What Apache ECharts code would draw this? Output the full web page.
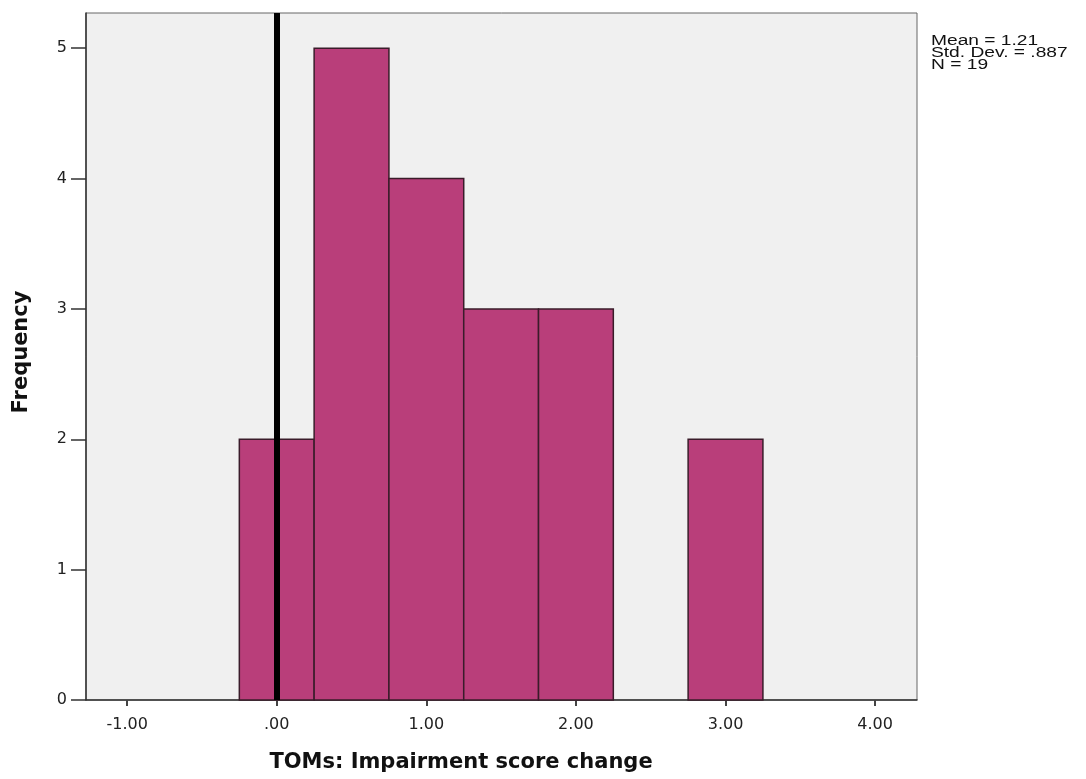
<!DOCTYPE html>
<html>
<head>
<meta charset="utf-8">
<script src="https://cdn.jsdelivr.net/npm/echarts@6/dist/echarts.min.js"></script>
<style>
  html, body { margin: 0; padding: 0; background: #fff; }
  #chart { width: 1086px; height: 779px; }
</style>
</head>
<body>
<div id="chart"></div>
<script>
// histogram bins (lower edge) and counts
const binStarts = [-0.25, 0.25, 0.75, 1.25, 1.75, 2.25, 2.75]
const binWidth = 0.5
const counts = [2, 5, 4, 3, 3, 0, 2]
const xTicks = [-1, 0, 1, 2, 3, 4]
const yTicks = [0, 1, 2, 3, 4, 5]
const statLines = ['Mean = 1.21', 'Std. Dev. = .887', 'N = 19']
const xTitle = 'TOMs: Impairment score change'
const yTitle = 'Frequency'
const refLine = 0

const myChart = echarts.init(document.getElementById('chart'))

const barData = binStarts.map((s, i) => [s, s + binWidth, counts[i]])

// SPSS style labels: -1.00, .00, 1.00
const fmtX = v => {
  const s = Number(v).toFixed(2)
  return s.replace(/^0\./, '.').replace(/^-0\./, '-.')
}

const option = {
  animation: false,
  textStyle: { fontFamily: 'DejaVu Sans, sans-serif' },
  grid: {
    left: 86, right: 169, top: 13, bottom: 79,
    show: true,
    backgroundColor: '#F0F0F0',
    borderColor: '#666',
    borderWidth: 1
  },
  xAxis: {
    type: 'value',
    min: -1.275,
    max: 4.28,
    axisLine: { onZero: false, lineStyle: { color: '#333', width: 1.5 } },
    axisTick: { show: true, customValues: xTicks, length: 6, lineStyle: { color: '#444', width: 2 } },
    axisLabel: { customValues: xTicks, formatter: fmtX, color: '#222', fontSize: 16, margin: 17 },
    splitLine: { show: false }
  },
  yAxis: {
    type: 'value',
    min: 0,
    max: 5.27,
    axisLine: { show: true, onZero: false, lineStyle: { color: '#333', width: 1.5 } },
    axisTick: { show: true, customValues: yTicks, length: 15, lineStyle: { color: '#333', width: 1.5 } },
    axisLabel: { customValues: yTicks, color: '#222', fontSize: 16, margin: 19 },
    splitLine: { show: false }
  },
  series: [
    {
      type: 'custom',
      data: barData,
      encode: { x: [0, 1], y: 2 },
      renderItem: (params, api) => {
        const h = api.value(2)
        if (!h) return
        const p0 = api.coord([api.value(0), h])
        const p1 = api.coord([api.value(1), 0])
        return {
          type: 'rect',
          shape: { x: p0[0], y: p0[1], width: p1[0] - p0[0], height: p1[1] - p0[1] },
          style: { fill: '#B93E7A', stroke: '#3A1C2A', lineWidth: 1.5 }
        }
      },
      markLine: {
        silent: true,
        symbol: 'none',
        label: { show: false },
        lineStyle: { color: '#000', width: 6, type: 'solid' },
        data: [{ xAxis: refLine }]
      },
      z: 2
    }
  ],
  graphic: [
    {
      type: 'text',
      x: 931,
      y: 35,
      scaleX: 1.37,
      style: {
        text: statLines.join('\n'),
        font: '14px Liberation Sans, Arial, sans-serif',
        lineHeight: 12,
        fill: '#111'
      }
    },
    {
      type: 'text',
      x: 461,
      y: 763,
      style: {
        text: xTitle,
        font: 'bold 21px DejaVu Sans, sans-serif',
        fill: '#111',
        align: 'center',
        verticalAlign: 'middle'
      }
    },
    {
      type: 'text',
      x: 22,
      y: 352,
      rotation: Math.PI / 2,
      style: {
        text: yTitle,
        font: 'bold 21px DejaVu Sans, sans-serif',
        fill: '#111',
        align: 'center',
        verticalAlign: 'middle'
      }
    }
  ]
}

myChart.setOption(option)
window.addEventListener('resize', () => { myChart.resize() })
</script>
</body>
</html>
